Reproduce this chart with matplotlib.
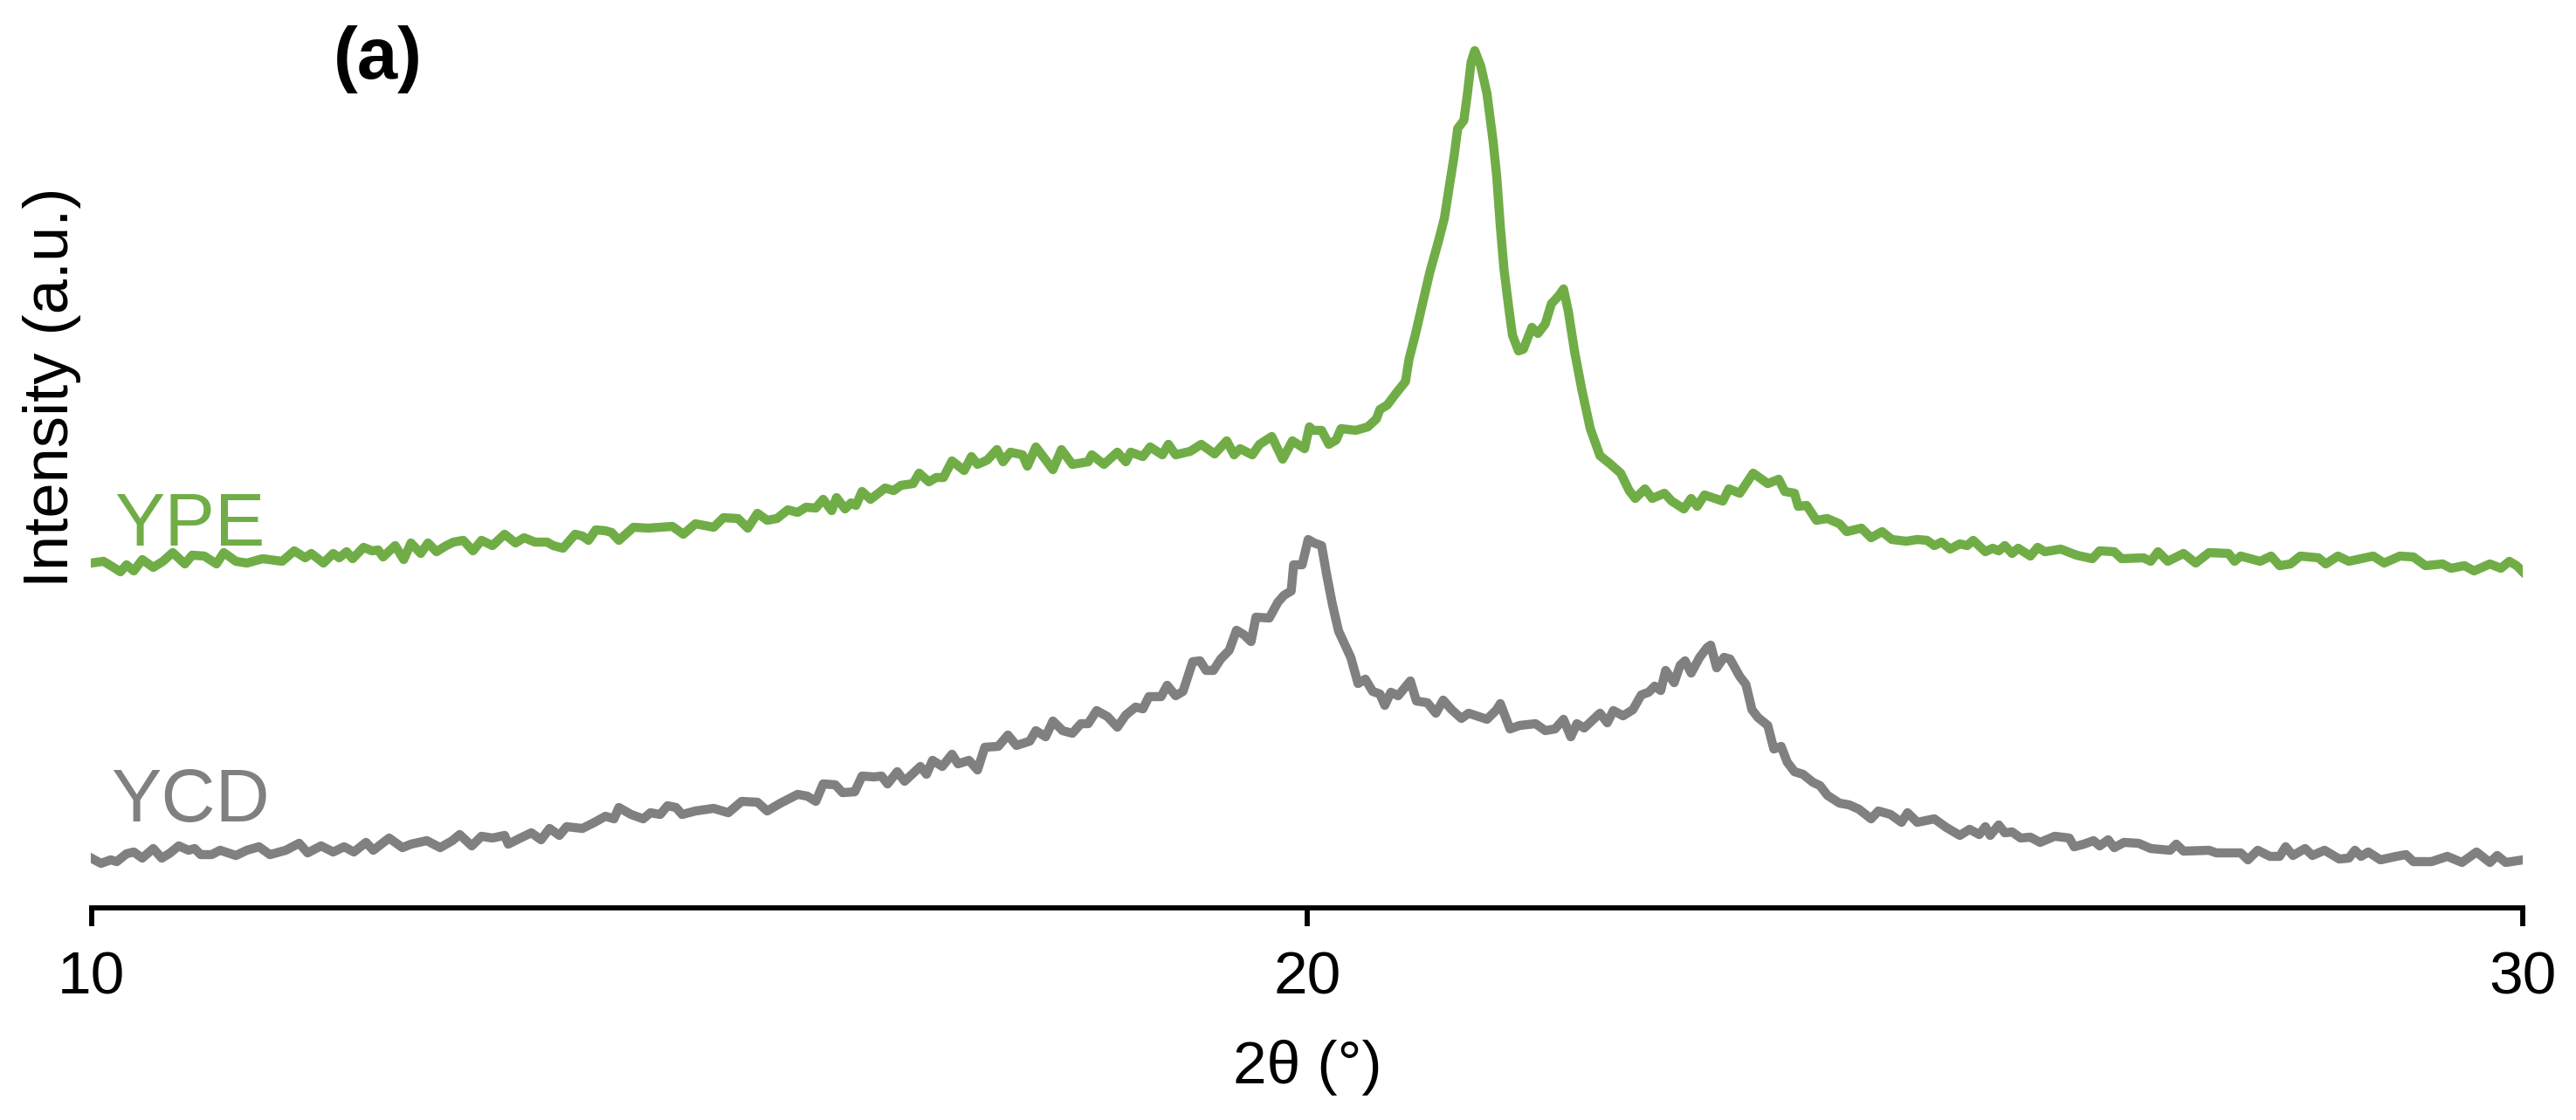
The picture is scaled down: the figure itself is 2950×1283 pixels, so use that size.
import matplotlib
matplotlib.use("Agg")
import matplotlib.pyplot as plt

plt.rcParams['font.family'] = ['Liberation Sans', 'DejaVu Sans']

# 2-theta (degrees) and intensity (a.u.)
ype_theta = [10.00, 10.10, 10.16, 10.24, 10.29, 10.35, 10.42, 10.51, 10.59, 10.67, 10.77, 10.83, 10.93, 11.03, 11.09,
             11.19, 11.28, 11.41, 11.57, 11.67, 11.76, 11.81, 11.91, 11.99, 12.04, 12.10, 12.15, 12.24, 12.31, 12.36,
             12.40, 12.50, 12.57, 12.63, 12.71, 12.77, 12.84, 12.92, 12.98, 13.06, 13.14, 13.21, 13.30, 13.40, 13.49,
             13.56, 13.65, 13.75, 13.80, 13.88, 13.98, 14.04, 14.09, 14.15, 14.23, 14.28, 14.34, 14.46, 14.58, 14.78,
             14.87, 14.97,
             15.12, 15.20, 15.32, 15.40, 15.48, 15.56, 15.64, 15.73, 15.81, 15.88, 15.96, 16.02, 16.09, 16.13, 16.20,
             16.25, 16.29, 16.34, 16.41, 16.53, 16.60, 16.66, 16.76, 16.81, 16.89, 16.95, 17.01, 17.08, 17.18, 17.24,
             17.29, 17.37, 17.45, 17.50, 17.56, 17.66, 17.70, 17.77, 17.83, 17.91, 17.98, 18.07, 18.20, 18.23, 18.33,
             18.44, 18.51, 18.55, 18.65, 18.71, 18.81, 18.86, 18.92, 19.04, 19.13, 19.24, 19.34, 19.40, 19.45, 19.55,
             19.61, 19.71, 19.80, 19.88, 19.98, 20.02,
             20.05, 20.12, 20.18, 20.24, 20.28, 20.40, 20.50, 20.57, 20.60, 20.66, 20.73, 20.81, 20.84, 20.89, 20.95,
             21.01, 21.08, 21.13, 21.17, 21.21, 21.24, 21.29, 21.32, 21.35, 21.38, 21.43, 21.48, 21.53, 21.56, 21.59,
             21.62, 21.66, 21.69, 21.74, 21.78, 21.85, 21.90, 21.96, 22.01, 22.07, 22.11, 22.15, 22.20, 22.26, 22.33,
             22.41, 22.49, 22.58, 22.65, 22.70, 22.78, 22.84, 22.94, 23.00, 23.10, 23.16, 23.21, 23.27, 23.42, 23.47,
             23.56, 23.67, 23.79, 23.88, 23.93, 24.01, 24.04, 24.11, 24.19, 24.28, 24.38, 24.44, 24.56, 24.64, 24.73,
             24.81, 24.93, 25.02,
             25.10, 25.16, 25.22, 25.29, 25.37, 25.43, 25.48, 25.58, 25.64, 25.69, 25.74, 25.80, 25.85, 25.95, 26.01,
             26.07, 26.20, 26.33, 26.46, 26.52, 26.64, 26.70, 26.88, 26.94, 27.00, 27.08, 27.21, 27.31, 27.42, 27.58,
             27.63, 27.68, 27.84, 27.93, 28.00, 28.09, 28.17, 28.32, 28.38, 28.48, 28.57, 28.77, 28.86, 28.99, 29.10,
             29.20, 29.34, 29.41, 29.52, 29.60, 29.73, 29.82, 29.89, 29.95, 30.00]
ype_int = [395, 397, 392, 385, 393, 386, 399, 390, 397, 407, 394, 404, 403, 394, 407,
           397, 395, 400, 397, 409, 401, 406, 395, 406, 401, 408, 400, 413, 409, 410,
           402, 415, 399, 418, 406, 418, 408, 415, 419, 421, 409, 421, 415, 428, 418,
           424, 419, 419, 415, 412, 428, 426, 421, 433, 432, 430, 421, 436, 435, 437,
           428, 440,
           436, 447, 446, 435, 452, 444, 446, 456, 453, 459, 458, 468, 455, 470, 457,
           464, 461, 477, 468, 481, 478, 484, 486, 498, 488, 493, 493, 512, 501, 517,
           508, 513, 525, 511, 522, 519, 506, 528, 517, 502, 525, 508, 511, 519, 508,
           522, 511, 522, 517, 528, 519, 531, 519, 523, 531, 520, 535, 519, 526, 519,
           531, 540, 514, 535, 526, 551,
           547, 547, 531, 536, 549, 547, 551, 560, 571, 576, 589, 603, 629, 656, 692,
           728, 763, 790, 826, 861, 893, 902, 933, 969, 982, 964, 933, 879, 839, 781,
           732, 687, 656, 638, 640, 665, 658, 669, 692, 701, 709, 683, 638, 594, 549,
           518, 509, 498, 478, 469, 480, 469, 475, 466, 457, 469, 460, 473, 466, 480,
           475, 498, 486, 491, 477, 475, 460, 461, 444, 446, 440, 431, 435, 424, 431,
           422, 420, 422,
           421, 415, 419, 411, 417, 415, 421, 408, 412, 409, 415, 406, 412, 403, 413,
           408, 411, 404, 400, 409, 408, 400, 401, 397, 408, 397, 406, 395, 407, 406,
           397, 403, 397, 403, 392, 394, 403, 401, 394, 403, 397, 403, 395, 403, 402,
           392, 394, 389, 392, 386, 394, 389, 397, 392, 385]

ycd_theta = [10.00, 10.08, 10.16, 10.21, 10.29, 10.35, 10.42, 10.51, 10.58, 10.64, 10.72, 10.80, 10.85, 10.90, 10.99,
             11.06, 11.19, 11.28, 11.38, 11.47, 11.60, 11.71, 11.78, 11.89, 11.99, 12.08, 12.16, 12.26, 12.32, 12.45,
             12.56, 12.63, 12.76, 12.87, 12.97, 13.03, 13.13, 13.21, 13.30, 13.40, 13.43, 13.53, 13.62, 13.70, 13.77,
             13.85, 13.91, 14.04, 14.14, 14.23, 14.30, 14.34, 14.44, 14.54, 14.60, 14.68, 14.74, 14.81, 14.86, 14.97,
             15.12, 15.24, 15.35, 15.48, 15.56, 15.67, 15.81, 15.89, 15.96, 16.02, 16.12, 16.18, 16.28, 16.34, 16.44,
             16.50, 16.55, 16.63, 16.69, 16.82, 16.87, 16.92, 17.00, 17.08, 17.13, 17.22, 17.29, 17.35, 17.46, 17.54,
             17.61, 17.72, 17.77, 17.85, 17.91, 17.99, 18.07, 18.14, 18.20, 18.27, 18.36, 18.44, 18.51, 18.59,
             18.65, 18.70, 18.80, 18.85, 18.92, 18.98, 19.06, 19.12, 19.17, 19.23, 19.29, 19.36, 19.42, 19.48, 19.54,
             19.58, 19.69, 19.76, 19.81, 19.87, 19.89, 19.96, 20.01, 20.06, 20.12, 20.16, 20.21, 20.26, 20.36, 20.42,
             20.48, 20.54, 20.60, 20.64, 20.69, 20.75, 20.85, 20.90, 20.99, 21.06, 21.12, 21.19, 21.27, 21.33, 21.48,
             21.56, 21.59, 21.67, 21.75, 21.88, 21.96, 22.04, 22.11, 22.17, 22.22, 22.28, 22.41, 22.47, 22.52, 22.60,
             22.68, 22.75, 22.81, 22.86, 22.91, 22.95, 23.02, 23.07, 23.11, 23.16, 23.23, 23.29, 23.32, 23.37, 23.43,
             23.48, 23.56, 23.61, 23.66, 23.71, 23.79, 23.84, 23.90, 23.95, 24.01, 24.08, 24.16, 24.22, 24.28, 24.38,
             24.46, 24.54, 24.64, 24.70, 24.80, 24.89, 24.94, 25.02,
             25.16, 25.26, 25.37, 25.45, 25.53, 25.58, 25.62, 25.69, 25.74, 25.80, 25.87, 25.95, 26.03, 26.15, 26.27,
             26.31, 26.39, 26.47, 26.52, 26.59, 26.64, 26.72, 26.84, 26.94, 27.10, 27.15, 27.21, 27.42, 27.48, 27.68,
             27.74, 27.82, 27.92, 28.00, 28.05, 28.11, 28.21, 28.27, 28.37, 28.49, 28.57, 28.62, 28.67, 28.73, 28.83,
             28.96, 29.04, 29.10, 29.25, 29.38, 29.50, 29.62, 29.73, 29.79, 29.86, 30.00]
ycd_int = [57, 51, 55, 53, 62, 64, 57, 68, 57, 62, 71, 66, 68, 61, 61,
           66, 60, 66, 70, 61, 66, 74, 63, 71, 64, 70, 64, 75, 66, 80,
           69, 73, 77, 69, 77, 84, 71, 82, 80, 83, 73, 80, 86, 78, 91,
           83, 93, 91, 98, 105, 102, 115, 107, 102, 109, 107, 117, 115, 107, 111,
           114, 109, 122, 121, 111, 120, 130, 128, 122, 142, 141, 132, 133, 151, 150,
           151, 142, 156, 145, 162, 153, 169, 162, 176, 165, 169, 158, 184, 185, 198,
           186, 191, 203, 196, 214, 203, 200, 211, 211, 226, 219, 207, 221, 230,
           228, 242, 242, 255, 243, 248, 282, 283, 272, 272, 285, 295, 318, 313, 305,
           333, 332, 350, 358, 363, 393, 393, 422, 418, 415, 383, 347, 317, 287, 257,
           262, 248, 245, 232, 247, 243, 260, 237, 235, 223, 238, 227, 217, 223, 216,
           227, 234, 205, 209, 211, 203, 205, 216, 196, 211, 206, 223, 212, 226, 220,
           227, 244, 247, 254, 249, 272, 258, 278, 283, 269, 287, 298, 301, 275, 287,
           285, 265, 256, 227, 218, 209, 182, 185, 167, 156, 153, 144, 140, 129, 120,
           118, 113, 102, 111, 107, 98, 109, 98,
           102, 92, 83, 90, 84, 93, 83, 95, 86, 87, 80, 81, 75, 82, 80,
           70, 73, 77, 71, 78, 69, 75, 74, 68, 66, 73, 65, 66, 63, 63,
           55, 66, 59, 59, 70, 60, 68, 60, 66, 56, 57, 66, 59, 64, 55,
           59, 61, 53, 53, 59, 52, 64, 52, 60, 52, 55]

series_names = ["YPE", "YCD"]
series_colors = ["#70AD47", "#808080"]
x_ticks = [10, 20, 30]

W, H = 2950, 1283
fig = plt.figure(figsize=(W / 100, H / 100), dpi=100)
ax = fig.add_axes([104.5 / W, (H - 1040) / H, (2889 - 104.5) / W, 1040 / H])

ax.plot(ype_theta, ype_int, color=series_colors[0], lw=7.5, solid_joinstyle='round')
ax.plot(ycd_theta, ycd_int, color=series_colors[1], lw=7.5, solid_joinstyle='round')

ax.set_xlim(10, 30)
ax.set_ylim(0, 1040)
for s in ("left", "top", "right"):
    ax.spines[s].set_visible(False)
ax.spines["bottom"].set_linewidth(4.2)
ax.set_yticks([])
ax.set_xticks(x_ticks)
ax.set_xticklabels([str(t) for t in x_ticks])
ax.tick_params(axis='x', direction='out', length=15, width=4.2, pad=20, labelsize=50)

ax.set_xlabel("2θ (°)", fontsize=50)
ax.xaxis.set_label_coords(0.5, -0.145)

def fx(px):
    return px / W

def fy(py):
    return 1 - py / H

fig.text(fx(60), fy(444), "Intensity (a.u.)", rotation=90, ha='center', va='center', fontsize=52)
fig.text(fx(433), fy(68), "(a)", ha='center', va='center', fontsize=60, fontweight='bold')
fig.text(fx(131), fy(625), series_names[0], ha='left', va='baseline', fontsize=62, color=series_colors[0])
fig.text(fx(127), fy(941), series_names[1], ha='left', va='baseline', fontsize=62, color=series_colors[1])

fig.savefig("out.png", dpi=100)
